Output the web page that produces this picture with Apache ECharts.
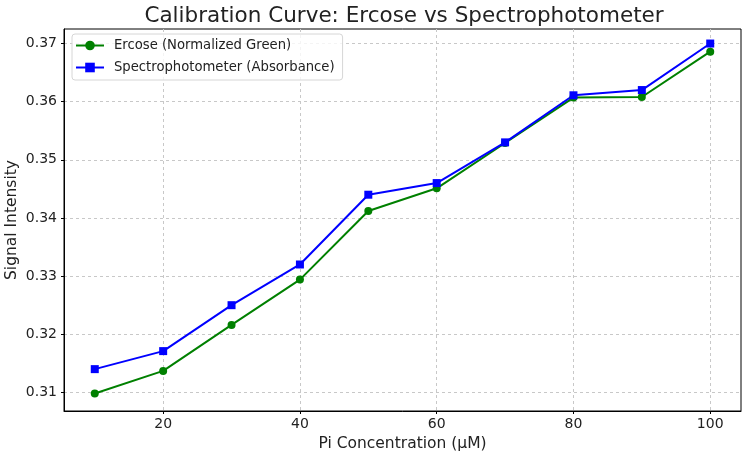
<!DOCTYPE html>
<html>
<head>
    <meta charset="utf-8">
    <title>Calibration Curve</title>
    <script src="https://cdn.jsdelivr.net/npm/echarts@6/dist/echarts.min.js"></script>
    <style>
        html, body { margin: 0; padding: 0; background: #fff; }
        #main { width: 745px; height: 456px; }
    </style>
</head>
<body>
    <div id="main"></div>
    <script type="text/javascript">
        // data
        var concentrations = [10, 20, 30, 40, 50, 60, 70, 80, 90, 100];
        var ercose = [0.3098, 0.3137, 0.3216, 0.3294, 0.3412, 0.3451, 0.3529, 0.3607, 0.3608, 0.3686];
        var spectro = [0.3140, 0.3171, 0.3250, 0.3320, 0.3440, 0.3460, 0.3530, 0.3611, 0.3620, 0.3700];
        var xTicks = [20, 40, 60, 80, 100];
        var yTicks = [0.31, 0.32, 0.33, 0.34, 0.35, 0.36, 0.37];

        var font = 'DejaVu Sans';
        var gridLine = { show: true, lineStyle: { color: '#c8c8c8', type: [3, 3], width: 1 } };

        function pairs(ys) {
            return concentrations.map(function (x, i) { return [x, ys[i]]; });
        }

        var myChart = echarts.init(document.getElementById('main'), null, { renderer: 'canvas' });
        var option = {
            animation: false,
            backgroundColor: '#fff',
            title: {
                text: 'Calibration Curve: Ercose vs Spectrophotometer',
                left: 399,
                textAlign: 'center',
                top: 0,
                textStyle: { fontFamily: font, fontSize: 21.5, fontWeight: 'normal', color: '#222' }
            },
            legend: {
                orient: 'vertical',
                left: 72,
                top: 34,
                itemWidth: 28,
                itemHeight: 12,
                itemGap: 9,
                padding: [5, 8, 6, 3],
                borderColor: '#d6d6d6',
                borderWidth: 1,
                borderRadius: 3,
                backgroundColor: 'rgba(255,255,255,0.8)',
                textStyle: { fontFamily: font, fontSize: 13.2, color: '#222', padding: [0, 0, 0, 5] },
                data: ['Ercose (Normalized Green)', 'Spectrophotometer (Absorbance)']
            },
            grid: {
                left: 64,
                right: 4,
                top: 29,
                bottom: 45,
                show: true,
                borderColor: '#000',
                borderWidth: 1,
                containLabel: false,
                outerBoundsMode: 'none'
            },
            xAxis: {
                type: 'value',
                min: 5.5,
                max: 104.5,
                name: 'Pi Concentration (\u00b5M)',
                nameLocation: 'middle',
                nameGap: 24,
                nameTextStyle: { fontFamily: font, fontSize: 15.5, color: '#222' },
                axisLine: { show: true, lineStyle: { color: '#000', width: 1 } },
                axisTick: { show: true, length: 3, customValues: xTicks, lineStyle: { color: '#000' } },
                axisLabel: { customValues: xTicks, fontFamily: font, fontSize: 14, color: '#222', margin: 6 },
                splitLine: gridLine
            },
            yAxis: {
                type: 'value',
                min: 0.3068,
                max: 0.3725,
                name: 'Signal Intensity',
                nameLocation: 'middle',
                nameGap: 44,
                nameMoveOverlap: false,
                nameTextStyle: { fontFamily: font, fontSize: 15.5, color: '#222' },
                axisLine: { show: true, lineStyle: { color: '#000', width: 1 } },
                axisTick: { show: true, length: 3, customValues: yTicks, lineStyle: { color: '#000' } },
                axisLabel: {
                    customValues: yTicks, fontFamily: font, fontSize: 14, color: '#222', margin: 7,
                    formatter: function (v) { return v.toFixed(2); }
                },
                splitLine: gridLine
            },
            series: [
                {
                    name: 'Ercose (Normalized Green)',
                    type: 'line',
                    data: pairs(ercose),
                    symbol: 'circle',
                    symbolSize: 8,
                    itemStyle: { color: '#008000' },
                    lineStyle: { color: '#008000', width: 2 }
                },
                {
                    name: 'Spectrophotometer (Absorbance)',
                    type: 'line',
                    data: pairs(spectro),
                    symbol: 'rect',
                    symbolSize: 8,
                    itemStyle: { color: '#0000ff' },
                    lineStyle: { color: '#0000ff', width: 2 }
                }
            ]
        };
        myChart.setOption(option);
    </script>
</body>
</html>
